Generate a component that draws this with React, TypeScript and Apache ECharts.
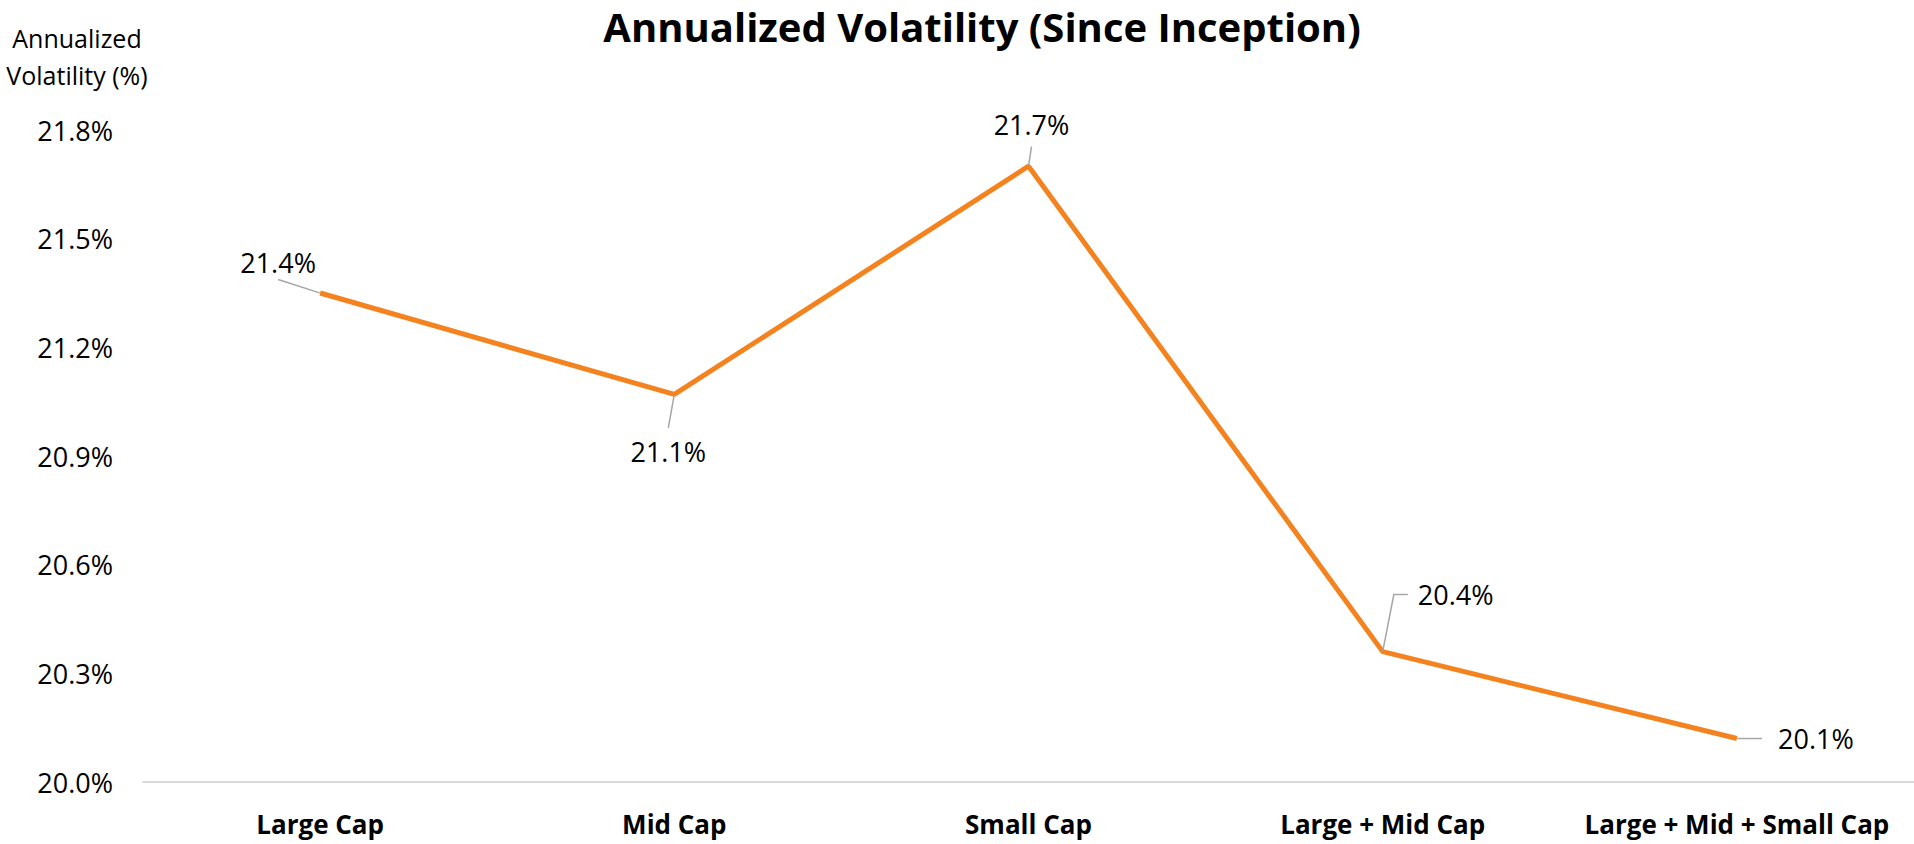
import React, { useEffect, useRef } from "react";
import * as echarts from "echarts";

const TITLE = "Annualized Volatility (Since Inception)";
const Y_AXIS_NAME = "Annualized\nVolatility (%)";
const categories = ["Large Cap", "Mid Cap", "Small Cap", "Large + Mid Cap", "Large + Mid + Small Cap"];
const volatility = [21.35, 21.07, 21.7, 20.36, 20.12];
const yMin = 20.0;
const yMax = 21.8;
const yStep = 0.3;

// label placement: offset of the label box centre from its point (px), box padding, leader-line bend
const labelOffsets: [number, number][] = [
  [-42, -31],
  [-6, 57],
  [3, -42],
  [73, -57],
  [73.5, 0],
];
const labelPaddings: number[][] = [
  [0, 60, 8, 60],
  [10, 10, 10, 10],
  [9, 9, 9, 9],
  [10, 10, 10, 10],
  [5, 5, 5, 16],
];
const leaderBend = [0, 0, 0, 14, 0];

const FONT = "'Open Sans', 'Liberation Sans', sans-serif";
const fmt = (v: number) => (Math.round(v * 10) / 10).toFixed(1) + "%";

export default function App() {
  const ref = useRef<HTMLDivElement>(null);
  useEffect(() => {
    if (!ref.current) return;
    const chart = echarts.init(ref.current, null, { renderer: "svg" });
    chart.setOption({
      animation: false,
      backgroundColor: "#ffffff",
      graphic: [
        {
          type: "text",
          x: 982,
          y: 26,
          style: {
            text: TITLE,
            align: "center",
            verticalAlign: "middle",
            fontFamily: FONT,
            fontWeight: "bold",
            fontSize: 40,
            fill: "#000",
          },
        },
      ],
      grid: { left: 143, right: 0, top: 130, bottom: 62, containLabel: false },
      xAxis: {
        type: "category",
        data: categories,
        axisLine: { show: true, lineStyle: { color: "#d9d9d9", width: 2 } },
        axisTick: { show: false },
        splitLine: { show: false },
        axisLabel: {
          fontFamily: FONT,
          fontWeight: "bold",
          fontSize: 26,
          color: "#000",
          margin: 29,
          interval: 0,
        },
      },
      yAxis: {
        type: "value",
        min: yMin,
        max: yMax,
        interval: yStep,
        name: Y_AXIS_NAME,
        nameLocation: "end",
        nameGap: 37,
        nameTextStyle: {
          fontFamily: FONT,
          fontSize: 25,
          color: "#000",
          align: "center",
          lineHeight: 37,
          padding: [0, 132, 0, 0],
        },
        axisLine: { show: false },
        axisTick: { show: false },
        splitLine: { show: false },
        axisLabel: {
          fontFamily: FONT,
          fontSize: 27,
          color: "#000",
          margin: 30,
          formatter: (v: number) => v.toFixed(1) + "%",
        },
      },
      series: [
        {
          type: "line",
          data: volatility.map((v, i) => ({
            value: v,
            label: { padding: labelPaddings[i] },
            labelLine: { length2: leaderBend[i] },
          })),
          symbol: "circle",
          symbolSize: 1,
          showSymbol: true,
          itemStyle: { color: "#F4831F" },
          lineStyle: { color: "#F4831F", width: 5 },
          label: {
            show: true,
            position: "inside",
            fontFamily: FONT,
            fontSize: 27,
            color: "#000",
            backgroundColor: "rgba(255,255,255,0)",
            formatter: (p: any) => fmt(Number(p.value)),
          },
          labelLine: {
            show: true,
            lineStyle: { color: "#a6a6a6", width: 1.5 },
          },
          labelLayout: (params: any) => {
            const o = labelOffsets[params.dataIndex] || [0, 0];
            return { dx: o[0], dy: o[1] };
          },
          emphasis: { disabled: true },
        },
      ],
    });
    return () => chart.dispose();
  }, []);
  return (
    <div
      ref={ref}
      style={{ position: "absolute", left: 0, top: 0, width: 1914, height: 844 }}
    />
  );
}
